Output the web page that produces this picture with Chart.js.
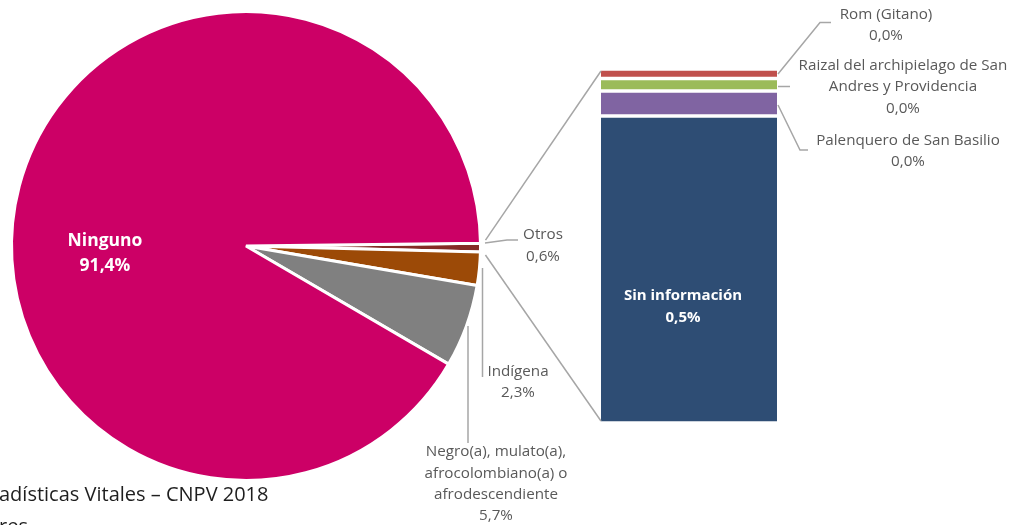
<!DOCTYPE html>
<html>
<head>
<meta charset="utf-8">
<script src="https://cdn.jsdelivr.net/npm/chart.js@4"></script>
<style>
  html, body { margin: 0; padding: 0; background: #fff; }
  #wrap { position: relative; width: 1012px; height: 525px; overflow: hidden; }
  #wrap canvas { position: absolute; left: 0; top: 0; }
  .nota { position: absolute; left: -1px; font-family: 'Open Sans', sans-serif; font-size: 20px; color: #1e1e1e; white-space: nowrap; }
</style>
</head>
<body>
<div id="wrap">
  <canvas id="tortaChart" width="1012" height="525"></canvas>
  <canvas id="barraChart" width="1012" height="525"></canvas>
  <div class="nota" style="top:480px">adísticas Vitales – CNPV 2018</div>
  <div class="nota" style="top:512px">res</div>
</div>
<script>
/* Pertenencia etnica - torta con barra de "Otros" */
const categoriasTorta = [
  'Otros',
  'Indígena',
  ['Negro(a), mulato(a),', 'afrocolombiano(a) o', 'afrodescendiente'],
  'Ninguno'
];
const categoriasOtros = [
  'Sin información',
  'Palenquero de San Basilio',
  ['Raizal del archipielago de San', 'Andres y Providencia'],
  'Rom (Gitano)'
];
const valoresOtros = [0.516, 0.042, 0.021, 0.016];
const totalOtros = valoresOtros.reduce((a, b) => a + b, 0);
const valoresTorta = [totalOtros, 2.3, 5.7, 91.4];

const coloresTorta = ['#842B25', '#9C4A07', '#808080', '#CC0066'];
const coloresOtros = ['#2E4D74', '#8064A2', '#9BBB59', '#C0504D'];

const GRIS = '#595959';
const LINEA = '#A6A6A6';
const FUENTE = '"Open Sans", sans-serif';

function pct(v) {
  return v.toFixed(1).replace('.', ',') + '%';
}

function lineas(label) {
  return Array.isArray(label) ? label.slice() : [label];
}

function texto(ctx, arr, x, y, salto) {
  arr.forEach((t, i) => ctx.fillText(t, x, y + i * salto));
}

function trazo(ctx, pts) {
  ctx.beginPath();
  ctx.moveTo(pts[0][0], pts[0][1]);
  for (let i = 1; i < pts.length; i++) ctx.lineTo(pts[i][0], pts[i][1]);
  ctx.stroke();
}

/* etiquetas de la torta */
const etiquetasTorta = {
  id: 'etiquetasTorta',
  afterDraw(chart) {
    const ctx = chart.ctx;
    const d = chart.data;
    const vals = d.datasets[0].data;
    ctx.save();
    ctx.textAlign = 'center';
    ctx.textBaseline = 'middle';

    // Ninguno, dentro del sector
    ctx.fillStyle = '#fff';
    ctx.font = 'bold 17.5px ' + FUENTE;
    texto(ctx, [lineas(d.labels[3])[0], pct(vals[3])], 105, 241, 25.5);

    ctx.fillStyle = GRIS;
    ctx.font = '15.2px ' + FUENTE;
    texto(ctx, [...lineas(d.labels[0]), pct(vals[0])], 543, 235, 22);
    texto(ctx, [...lineas(d.labels[1]), pct(vals[1])], 518, 372, 21);
    texto(ctx, [...lineas(d.labels[2]), pct(vals[2])], 496, 452, 21.2);

    ctx.strokeStyle = LINEA;
    ctx.lineWidth = 1.5;
    trazo(ctx, [[485, 243], [507, 240], [518, 240]]);
    trazo(ctx, [[482.5, 268], [482.5, 377]]);
    trazo(ctx, [[468, 326], [468, 443]]);
    ctx.restore();
  }
};

const torta = new Chart(document.getElementById('tortaChart'), {
  type: 'pie',
  data: {
    labels: categoriasTorta,
    datasets: [{
      data: valoresTorta,
      backgroundColor: coloresTorta,
      borderColor: '#fff',
      borderWidth: 3
    }]
  },
  options: {
    responsive: false,
    animation: false,
    rotation: 89.3,
    layout: {
      padding: { left: 10, top: 10, right: 1012 - 482, bottom: 525 - 482 }
    },
    plugins: {
      legend: { display: false },
      tooltip: { enabled: false }
    }
  },
  plugins: [etiquetasTorta]
});

/* conectores y etiquetas de la barra */
const etiquetasBarra = {
  id: 'etiquetasBarra',
  afterDraw(chart) {
    const ctx = chart.ctx;
    const area = chart.chartArea;
    const arco = torta.getDatasetMeta(0).data[0];
    const r = arco.outerRadius + 5;
    ctx.save();
    ctx.strokeStyle = LINEA;
    ctx.lineWidth = 1.5;
    trazo(ctx, [[arco.x + r * Math.cos(arco.startAngle), arco.y + r * Math.sin(arco.startAngle) - 3], [area.left, area.top + 2]]);
    trazo(ctx, [[arco.x + r * Math.cos(arco.endAngle), arco.y + r * Math.sin(arco.endAngle) + 3], [area.left, area.bottom - 2]]);

    trazo(ctx, [[778, 74], [820, 22.5], [831, 22.5]]);
    trazo(ctx, [[778, 86.5], [790, 86.5]]);
    trazo(ctx, [[778, 105], [800, 150], [808, 150]]);

    const sets = chart.data.datasets;
    ctx.textAlign = 'center';
    ctx.textBaseline = 'middle';
    ctx.fillStyle = '#fff';
    ctx.font = 'bold 15px ' + FUENTE;
    texto(ctx, [sets[0].label, pct(sets[0].data[0])], 683, 296, 21.5);

    ctx.fillStyle = GRIS;
    ctx.font = '15.2px ' + FUENTE;
    texto(ctx, [...lineas(sets[3].label), pct(sets[3].data[0])], 886, 15, 21);
    texto(ctx, [...lineas(sets[2].label), pct(sets[2].data[0])], 903, 65.5, 21.5);
    texto(ctx, [...lineas(sets[1].label), pct(sets[1].data[0])], 908, 141, 21);
    ctx.restore();
  }
};

const barra = new Chart(document.getElementById('barraChart'), {
  type: 'bar',
  data: {
    labels: ['Otros'],
    datasets: categoriasOtros.map((c, i) => ({
      label: c,
      data: [valoresOtros[i]],
      backgroundColor: coloresOtros[i],
      borderColor: '#fff',
      borderWidth: { top: 2, bottom: 2, left: 0, right: 0 },
      borderSkipped: false,
      barPercentage: 1,
      categoryPercentage: 1
    }))
  },
  options: {
    responsive: false,
    animation: false,
    layout: {
      padding: { left: 601, top: 69, right: 1012 - 777, bottom: 525 - 423 }
    },
    scales: {
      x: { stacked: true, display: false },
      y: { stacked: true, display: false, min: 0, max: totalOtros }
    },
    plugins: {
      legend: { display: false },
      tooltip: { enabled: false }
    }
  },
  plugins: [etiquetasBarra]
});
</script>
</body>
</html>
